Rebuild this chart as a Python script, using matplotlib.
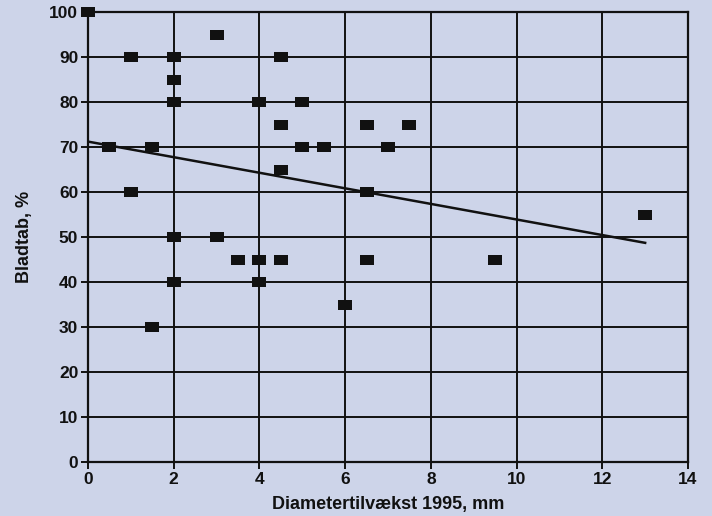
import matplotlib
matplotlib.use("Agg")
import matplotlib.pyplot as plt
from matplotlib.path import Path

# Diameter growth 1995 (mm) vs. leaf loss (%)
diameter = [0, 0.5, 1, 1, 1.5, 1.5, 2, 2, 2, 2, 2, 3, 3, 3.5, 4, 4, 4,
            4.5, 4.5, 4.5, 4.5, 5, 5, 5.5, 6, 6.5, 6.5, 6.5, 7, 7.5, 9.5, 13]
bladtab = [100, 70, 90, 60, 70, 30, 90, 85, 80, 50, 40, 95, 50, 45, 80, 45, 40,
           90, 75, 65, 45, 80, 70, 70, 35, 75, 60, 45, 70, 75, 45, 55]

# Linear trend line endpoints
trend_x = [0, 13]
trend_y = [71.2, 48.7]

x_ticks = [0, 2, 4, 6, 8, 10, 12, 14]
y_ticks = [0, 10, 20, 30, 40, 50, 60, 70, 80, 90, 100]

bg = "#cdd4e9"
ink = "#111111"

plt.rcParams["font.family"] = ["Liberation Sans", "DejaVu Sans"]

fig = plt.figure(figsize=(7.12, 5.16), dpi=100, facecolor=bg)
ax = fig.add_axes([88 / 712, 1 - 462 / 516, 600 / 712, 450 / 516])
ax.set_facecolor(bg)

ax.set_xlim(0, 14)
ax.set_ylim(0, 100)
ax.set_xticks(x_ticks)
ax.set_yticks(y_ticks)

ax.grid(True, color=ink, linewidth=1.4)
ax.set_axisbelow(True)
for s in ax.spines.values():
    s.set_color(ink)
    s.set_linewidth(1.6)

ax.tick_params(axis="both", direction="out", length=5, width=1.4, color=ink,
               labelsize=12.5, labelcolor=ink, pad=2)
for lab in ax.get_xticklabels() + ax.get_yticklabels():
    lab.set_fontweight("bold")

# Flat rectangular marker
rect = Path([(-1.5, -1.05), (1.5, -1.05), (1.5, 1.05), (-1.5, 1.05), (-1.5, -1.05)],
            [Path.MOVETO, Path.LINETO, Path.LINETO, Path.LINETO, Path.CLOSEPOLY])

ax.plot(trend_x, trend_y, color=ink, linewidth=1.8, zorder=3)
ax.plot(diameter, bladtab, linestyle="none", marker=rect, markersize=9.5,
        color=ink, markeredgewidth=0, zorder=4, clip_on=False)

ax.set_xlabel("Diametertilvækst 1995, mm", fontsize=13, fontweight="bold",
              color=ink, labelpad=7)
ax.set_ylabel("Bladtab, %", fontsize=13, fontweight="bold", color=ink,
              labelpad=12)

fig.savefig("out.png", dpi=100, facecolor=bg)
